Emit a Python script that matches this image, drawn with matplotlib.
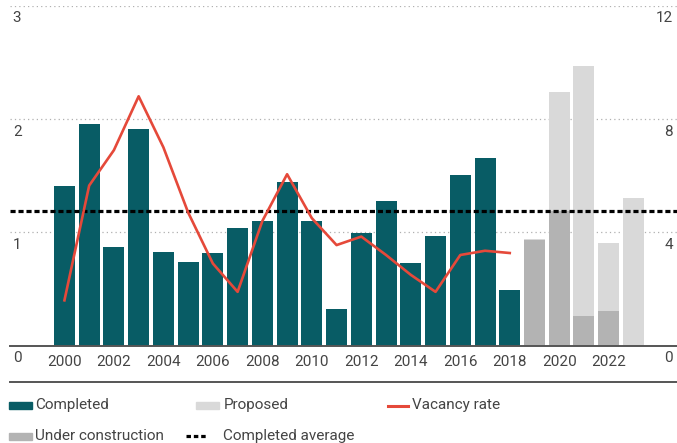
import numpy as np
import matplotlib.pyplot as plt
from matplotlib.patches import Rectangle
from matplotlib.lines import Line2D

plt.rcParams['font.family'] = ['Roboto', 'DejaVu Sans']

# completed supply (left axis) 2000-2018
years_done = np.arange(2000, 2019)
completed = [1.41, 1.96, 0.87, 1.91, 0.83, 0.74, 0.82, 1.04, 1.10, 1.44,
             1.10, 0.32, 0.99, 1.28, 0.73, 0.97, 1.51, 1.66, 0.49]

# pipeline 2019-2023
years_pipe = np.arange(2019, 2024)
under_construction = [0.93, 1.19, 0.26, 0.31, 0.0]
proposed = [0.01, 1.05, 2.21, 0.60, 1.30]

completed_avg = 1.19

# vacancy rate (right axis, %)
vacancy = [1.6, 5.65, 6.9, 8.8, 7.0, 4.7, 2.9, 1.9, 4.4, 6.05,
           4.5, 3.55, 3.85, 3.2, 2.5, 1.9, 3.2, 3.35, 3.27]

left_ticks = [0, 1, 2, 3]
right_ticks = [0, 4, 8, 12]

teal = '#085c65'
grey_uc = '#b3b3b3'
grey_prop = '#d9d9d9'
red = '#e5493a'
txt = '#444444'
fs = 11

fig = plt.figure(figsize=(6.77, 4.43), dpi=100)
W, H = 677, 443
ax = fig.add_axes([10 / W, (H - 345.7) / H, 667 / W, 340.1 / H])
ax.set_xlim(1997.80, 2024.76)
ax.set_ylim(0, 3)

for v in left_ticks[1:]:
    ax.axhline(v, color='#b0b0b0', lw=0.9, ls=(0, (1, 2.5)), zorder=0)

bw = 0.85
ax.bar(years_done, completed, width=bw, color=teal, zorder=2)
ax.bar(years_pipe, under_construction, width=bw, color=grey_uc, zorder=2)
ax.bar(years_pipe, proposed, width=bw, bottom=under_construction,
       color=grey_prop, zorder=2)
ax.axhline(completed_avg, color='black', lw=2.3, dashes=(1.6, 0.9), zorder=3)

for s in ax.spines.values():
    s.set_visible(False)
ax.axhline(0, color='#555555', lw=1.4, zorder=4, clip_on=False)

ax.set_xticks(np.arange(2000, 2023, 2))
ax.tick_params(axis='x', length=0, pad=7, labelsize=fs, labelcolor=txt)
ax.set_yticks([])

for v in left_ticks:
    ax.annotate(str(v), xy=(0, v), xycoords=('axes fraction', 'data'),
                xytext=(2, -4), textcoords='offset points', ha='left', va='top',
                fontsize=fs, color=txt)

ax2 = ax.twinx()
ax2.set_ylim(0, 12)
ax2.set_yticks([])
for s in ax2.spines.values():
    s.set_visible(False)
ax2.plot(years_done, vacancy, color=red, lw=1.9, zorder=5)
for v in right_ticks:
    ax2.annotate(str(v), xy=(1, v), xycoords=('axes fraction', 'data'),
                 xytext=(-3, -4), textcoords='offset points', ha='right', va='top',
                 fontsize=fs, color=txt)

# separator above legend
fig.add_artist(Line2D([10 / W, 1], [(H - 382) / H] * 2, color='#555555', lw=1.4))

# legend
def fy(py):
    return (H - py) / H

def swatch(x0, py, color):
    fig.add_artist(Rectangle((x0 / W, fy(py + 3.5)), 23 / W, 7 / H,
                             color=color, transform=fig.transFigure))

def label(x0, py, s):
    fig.text(x0 / W, fy(py), s, ha='left', va='center', fontsize=fs, color=txt)

swatch(9, 405, teal)
label(35, 405, 'Completed')
swatch(9, 436, grey_uc)
label(35, 436, 'Under construction')
swatch(196, 405, grey_prop)
label(224, 405, 'Proposed')
fig.add_artist(Line2D([186 / W, 207 / W], [fy(436)] * 2, color='black', lw=2.3,
                      dashes=(1.4, 0.9)))
label(223, 436, 'Completed average')
fig.add_artist(Line2D([388 / W, 408 / W], [fy(406)] * 2, color=red, lw=2.2))
label(412, 405, 'Vacancy rate')

fig.savefig('out.png', dpi=100)
